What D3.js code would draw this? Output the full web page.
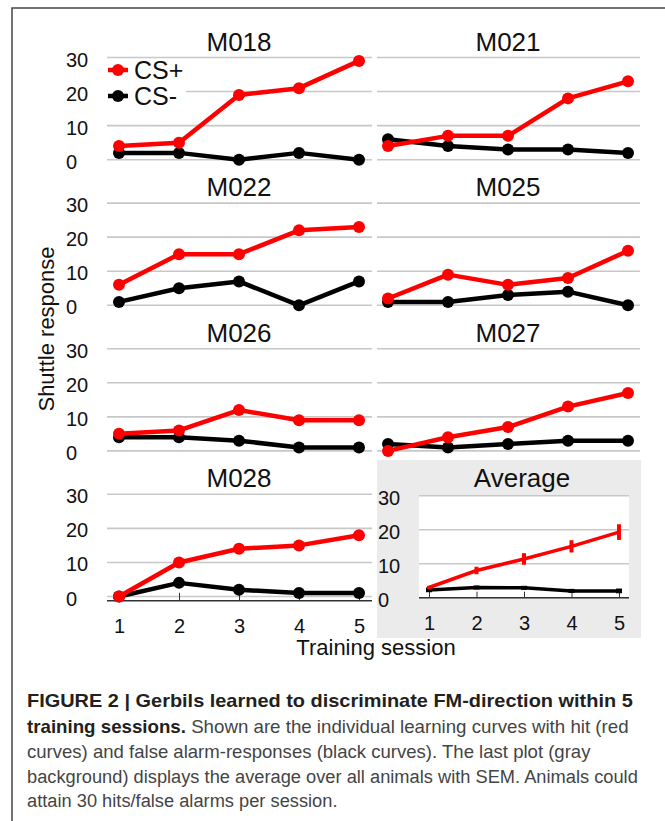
<!DOCTYPE html>
<html>
<head>
<meta charset="utf-8">
<script src="https://cdn.jsdelivr.net/npm/d3@7"></script>
<style>
  html, body { margin: 0; padding: 0; background: #fff; }
  svg { display: block; font-family: "Liberation Sans", Arial, Helvetica, sans-serif; }
</style>
</head>
<body>
<div id="chart"></div>
<script>
// sessions and tick values
const sessions = [1, 2, 3, 4, 5];
const yTicks = [0, 10, 20, 30];

// individual animals
const animals = ['M018', 'M021', 'M022', 'M025', 'M026', 'M027', 'M028'];
const csPlus = [
  [4, 5, 19, 21, 29],
  [4, 7, 7, 18, 23],
  [6, 15, 15, 22, 23],
  [2, 9, 6, 8, 16],
  [5, 6, 12, 9, 9],
  [0, 4, 7, 13, 17],
  [0, 10, 14, 15, 18]
];
const csMinus = [
  [2, 2, 0, 2, 0],
  [6, 4, 3, 3, 2],
  [1, 5, 7, 0, 7],
  [1, 1, 3, 4, 0],
  [4, 4, 3, 1, 1],
  [2, 1, 2, 3, 3],
  [0, 4, 2, 1, 1]
];

// average panel with SEM
const avgPlus = [3.0, 8.0, 11.4, 15.1, 19.3];
const avgPlusSem = [0.5, 1.1, 1.7, 1.8, 2.3];
const avgMinus = [2.3, 3.0, 2.9, 2.0, 2.0];
const avgMinusSem = [0.4, 0.3, 0.3, 0.3, 0.4];

const legendLabels = ['CS+', 'CS-'];
const yTitle = 'Shuttle response';
const xTitle = 'Training session';

const captionLines = [
  [{ t: 'FIGURE 2 | Gerbils learned to discriminate FM-direction within 5', b: true }],
  [{ t: 'training sessions.', b: true }, { t: ' Shown are the individual learning curves with hit (red', b: false }],
  [{ t: 'curves) and false alarm-responses (black curves). The last plot (gray', b: false }],
  [{ t: 'background) displays the average over all animals with SEM. Animals could', b: false }],
  [{ t: 'attain 30 hits/false alarms per session.', b: false }]
];

const RED = '#ff0000';
const GRID = '#c8c8c8';

const svg = d3.select('#chart').append('svg').attr('width', 665).attr('height', 821);

// frame
svg.append('path')
  .attr('d', 'M12,821 L12,8 L665,8')
  .attr('fill', 'none')
  .attr('stroke', '#444')
  .attr('stroke-width', 1.5);

const cols = [
  { p0: 119, p1: 359, g0: 107, g1: 372 },
  { p0: 388, p1: 628, g0: 377, g1: 640 }
];
const rowTop = i => 57.5 + 145.6 * i;
const rowH = 102.2;

function drawSeries(g, x, y, values, color, opts) {
  const line = d3.line().x((d, i) => x(sessions[i])).y(d => y(d));
  g.append('path')
    .datum(values)
    .attr('d', line)
    .attr('fill', 'none')
    .attr('stroke', color)
    .attr('stroke-width', opts.width)
    .attr('stroke-linejoin', 'round');
  if (opts.r) {
    g.selectAll(null)
      .data(values)
      .join('circle')
      .attr('cx', (d, i) => x(sessions[i]))
      .attr('cy', d => y(d))
      .attr('r', opts.r)
      .attr('fill', color);
  }
}

function yLabels(g, y, xPos) {
  g.selectAll(null)
    .data(yTicks)
    .join('text')
    .attr('x', xPos)
    .attr('y', d => y(d) + 9)
    .attr('font-size', 20)
    .attr('fill', '#111')
    .text(d => d);
}

function grid(g, y, g0, g1) {
  g.selectAll(null)
    .data(yTicks)
    .join('line')
    .attr('x1', g0)
    .attr('x2', g1)
    .attr('y1', d => y(d))
    .attr('y2', d => y(d))
    .attr('stroke', GRID)
    .attr('stroke-width', 1.6);
}

animals.forEach((name, k) => {
  const row = Math.floor(k / 2);
  const col = cols[k % 2];
  const top = rowTop(row);
  const x = d3.scalePoint().domain(sessions).range([col.p0, col.p1]);
  const y = d3.scaleLinear().domain([0, 30]).range([top + rowH, top]);
  const g = svg.append('g');

  grid(g, y, col.g0, col.g1);
  if (k % 2 === 0) {
    yLabels(g, y, 66);
  }

  g.append('text')
    .attr('x', (col.p0 + col.p1) / 2)
    .attr('y', top - 7)
    .attr('text-anchor', 'middle')
    .attr('font-size', 26)
    .attr('fill', '#111')
    .text(name);

  if (k === 0) {
    // legend
    const lg = g.append('g');
    lg.append('rect').attr('x', 104).attr('y', 60).attr('width', 82).attr('height', 46).attr('fill', '#fff');
    legendLabels.forEach((lab, i) => {
      const ly = 70 + 26 * i;
      const c = i === 0 ? RED : '#000';
      lg.append('line').attr('x1', 108).attr('x2', 128).attr('y1', ly).attr('y2', ly)
        .attr('stroke', c).attr('stroke-width', 4.5);
      lg.append('circle').attr('cx', 118).attr('cy', ly).attr('r', 6).attr('fill', c);
      lg.append('text').attr('x', 134).attr('y', ly + 8.5).attr('font-size', 25).attr('fill', '#111').text(lab);
    });
  }

  if (row === 3) {
    const axisY = y(0) + 4.3;
    g.append('line').attr('x1', col.g0).attr('x2', col.g1).attr('y1', axisY).attr('y2', axisY)
      .attr('stroke', '#333').attr('stroke-width', 1.5);
    const ax = g.append('g')
      .attr('transform', `translate(0,${axisY})`)
      .call(d3.axisBottom(x).tickSizeInner(-8).tickSizeOuter(0).tickPadding(18));
    ax.select('.domain').remove();
    ax.selectAll('.tick line').attr('stroke', '#333').attr('stroke-width', 1);
    ax.selectAll('.tick text').attr('font-size', 20).attr('fill', '#111')
      .attr('font-family', '"Liberation Sans", Arial, sans-serif');
  }

  drawSeries(g, x, y, csMinus[k], '#000', { width: 4.5, r: 6 });
  drawSeries(g, x, y, csPlus[k], RED, { width: 4.5, r: 6 });
});

// average panel
{
  const g = svg.append('g');
  g.append('rect').attr('x', 377).attr('y', 460).attr('width', 264).attr('height', 178).attr('fill', '#ebebeb');
  g.append('rect').attr('x', 419).attr('y', 495.7).attr('width', 210).attr('height', 102).attr('fill', '#fff');
  const x = d3.scalePoint().domain(sessions).range([429, 619]);
  const y = d3.scaleLinear().domain([0, 30]).range([597.7, 495.7]);

  grid(g, y, 419, 629);
  yLabels(g, y, 378);

  g.append('text')
    .attr('x', 522)
    .attr('y', 487)
    .attr('text-anchor', 'middle')
    .attr('font-size', 26)
    .attr('fill', '#111')
    .text('Average');

  g.append('line').attr('x1', 419).attr('x2', 629).attr('y1', y(0)).attr('y2', y(0))
    .attr('stroke', '#333').attr('stroke-width', 1.5);
  const ax = g.append('g')
    .attr('transform', `translate(0,${y(0)})`)
    .call(d3.axisBottom(x).tickSizeInner(-6).tickSizeOuter(0).tickPadding(18));
  ax.select('.domain').remove();
  ax.selectAll('.tick line').attr('stroke', '#333').attr('stroke-width', 1);
  ax.selectAll('.tick text').attr('font-size', 20).attr('fill', '#111')
    .attr('font-family', '"Liberation Sans", Arial, sans-serif');

  drawSeries(g, x, y, avgMinus, '#000', { width: 3.5 });
  g.selectAll(null)
    .data(avgMinus)
    .join('rect')
    .attr('x', (d, i) => x(sessions[i]) - 3)
    .attr('y', (d, i) => y(d + avgMinusSem[i]) - 1)
    .attr('width', 6)
    .attr('height', (d, i) => y(d - avgMinusSem[i]) - y(d + avgMinusSem[i]) + 2)
    .attr('fill', '#000');

  drawSeries(g, x, y, avgPlus, RED, { width: 3.5 });
  g.selectAll(null)
    .data(avgPlus)
    .join('line')
    .attr('x1', (d, i) => x(sessions[i]))
    .attr('x2', (d, i) => x(sessions[i]))
    .attr('y1', (d, i) => y(d + avgPlusSem[i]))
    .attr('y2', (d, i) => y(d - avgPlusSem[i]))
    .attr('stroke', RED)
    .attr('stroke-width', 4);
}

// axis titles
svg.append('text')
  .attr('transform', 'translate(53.5,329) rotate(-90)')
  .attr('text-anchor', 'middle')
  .attr('font-size', 22)
  .attr('fill', '#111')
  .text(yTitle);

svg.append('text')
  .attr('x', 376)
  .attr('y', 655)
  .attr('text-anchor', 'middle')
  .attr('font-size', 22)
  .attr('fill', '#111')
  .text(xTitle);

// caption: full lines squeezed to their width in the figure,
// the short last line keeps the squeeze of the line above it
const capBase = [707, 732.5, 757.5, 782.5, 807];
const capWidth = [606, 602, 564, 611, null];
let lastScale = 1;
captionLines.forEach((segs, i) => {
  const t = svg.append('text')
    .attr('font-size', 18)
    .attr('fill', '#333');
  segs.forEach(s => {
    t.append('tspan')
      .attr('font-weight', s.b ? 'bold' : 'normal')
      .attr('fill', s.b ? '#231f20' : '#444')
      .text(s.t);
  });
  const w = t.node().getComputedTextLength();
  const k = capWidth[i] ? capWidth[i] / w : lastScale;
  lastScale = k;
  t.attr('transform', `translate(27,${capBase[i]}) scale(${k},1)`);
});
</script>
</body>
</html>
